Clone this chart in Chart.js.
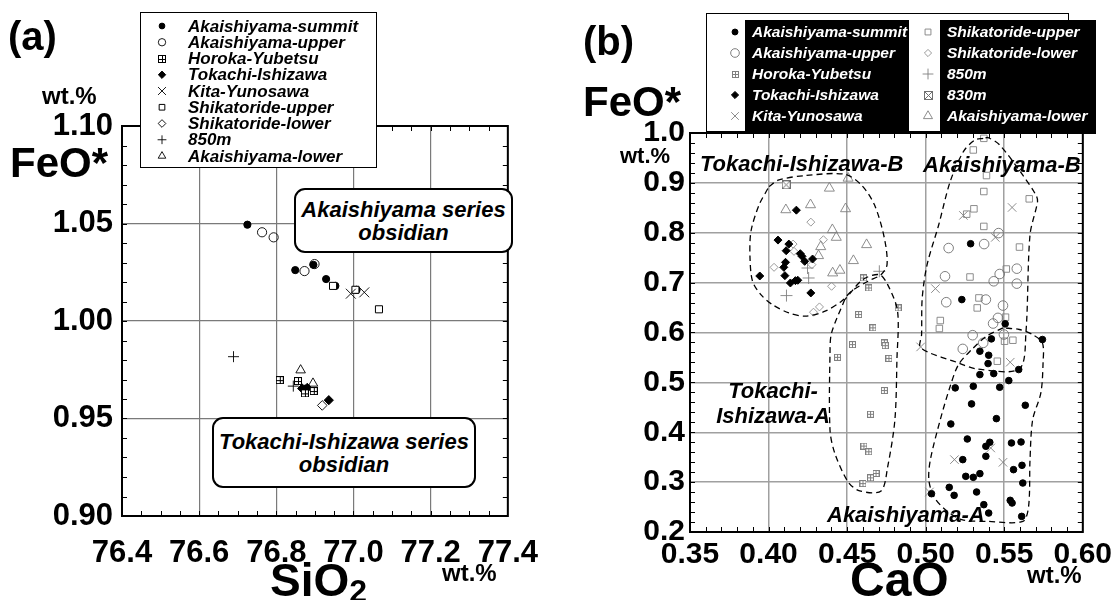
<!DOCTYPE html>
<html>
<head>
<meta charset="utf-8">
<script src="https://cdn.jsdelivr.net/npm/chart.js@4.4.1/dist/chart.umd.min.js"></script>
<style>
html, body { margin: 0; padding: 0; background: #fff; }
#page { position: relative; width: 1114px; height: 600px; overflow: hidden;
        font-family: "Liberation Sans", Arial, Helvetica, sans-serif; font-weight: bold; color: #000; }
canvas.chart { position: absolute; top: 0; }
.t { position: absolute; white-space: nowrap; line-height: 1; }
.it { font-style: italic; }
.box { position: absolute; box-sizing: border-box; background: #fff; }
.note { position: absolute; box-sizing: border-box; background: #fff; border: 2.5px solid #000; border-radius: 11px;
        display: flex; align-items: center; justify-content: center; text-align: center;
        font-style: italic; font-size: 22px; line-height: 23px; }
.blk { position: absolute; background: #000; }
</style>
</head>
<body>
<div id="page">
  <canvas id="chartA" class="chart" width="557" height="600" style="left:0"></canvas>
  <canvas id="chartB" class="chart" width="560" height="600" style="left:557px"></canvas>

  <!-- panel (a) texts -->
  <div class="t" style="left:8px; top:16px; font-size:40px">(a)</div>
  <div class="t" style="left:42px; top:84px; font-size:24px">wt.%</div>
  <div class="t" style="left:10px; top:142px; font-size:42px">FeO*</div>
  <div class="t" style="left:270px; top:557px; font-size:46px">SiO<span style="font-size:32px; position:relative; top:6px">2</span></div>
  <div class="t" style="left:442px; top:561px; font-size:24px">wt.%</div>
  <div class="note" style="left:294px; top:188px; width:219px; height:65px">Akaishiyama series<br>obsidian</div>
  <div class="note" style="left:212px; top:417px; width:264px; height:71px">Tokachi-Ishizawa series<br>obsidian</div>
  <div class="box" style="left:140px; top:12px; width:237px; height:156px; border:1.5px solid #000"></div>

  <!-- panel (b) texts -->
  <div class="t" style="left:583px; top:21px; font-size:40px">(b)</div>
  <div class="t" style="left:583px; top:81px; font-size:42px">FeO*</div>
  <div class="t" style="left:620px; top:145px; font-size:22px">wt.%</div>
  <div class="t" style="left:850px; top:556px; font-size:48px">CaO</div>
  <div class="t" style="left:1027px; top:563px; font-size:24px">wt.%</div>
  <div class="t it" style="left:700px; top:153px; font-size:22px">Tokachi-Ishizawa-B</div>
  <div class="t it" style="left:923px; top:154px; font-size:22px">Akaishiyama-B</div>
  <div class="t it" style="left:700px; top:378px; width:146px; font-size:22px; line-height:25px; text-align:center">Tokachi-<br>Ishizawa-A</div>
  <div class="t it" style="left:827px; top:504px; font-size:22px">Akaishiyama-A</div>
  <div class="box" style="left:706px; top:13px; width:363px; height:119px; border:1.3px solid #000"></div>
  <div class="blk" style="left:745px; top:20px; width:164px; height:114px"></div>
  <div class="blk" style="left:940px; top:20px; width:156px; height:114px"></div>

  <canvas id="symLayer" width="1114" height="600" style="position:absolute; left:0; top:0"></canvas>
</div>

<script>
// series names (legend order)
const namesA = ['Akaishiyama-summit', 'Akaishiyama-upper', 'Horoka-Yubetsu', 'Tokachi-Ishizawa', 'Kita-Yunosawa',
                'Shikatoride-upper', 'Shikatoride-lower', '850m', 'Akaishiyama-lower'];
const namesB = ['Akaishiyama-summit', 'Akaishiyama-upper', 'Horoka-Yubetsu', 'Tokachi-Ishizawa', 'Kita-Yunosawa',
                'Shikatoride-upper', 'Shikatoride-lower', '850m', '830m', 'Akaishiyama-lower'];

// ---- (a) SiO2 (wt.%) vs FeO* (wt.%)
const aSummit   = [[76.725, 1.0494], [76.849, 1.0261], [76.896, 1.0288], [76.929, 1.0215], [76.953, 1.018], [77.008, 1.016]];
const aUpper    = [[76.763, 1.0455], [76.793, 1.0429], [76.873, 1.0256], [76.899, 1.0292]];
const aHoroka   = [[76.809, 0.9697], [76.856, 0.9692], [76.874, 0.9629], [76.897, 0.9641]];
const aTokachi  = [[76.867, 0.9654], [76.874, 0.9649], [76.880, 0.9657], [76.936, 0.9594]];
const aKita     = [[76.993, 1.014], [77.028, 1.0147]];
const aShikUp   = [[76.947, 1.018], [77.005, 1.016], [77.066, 1.006]];
const aShikLow  = [[76.919, 0.9567]];
const a850      = [[76.689, 0.9817], [76.844, 0.9666]];
const aAkaLow   = [[76.863, 0.9748], [76.895, 0.968]];

// ---- (b) CaO (wt.%) vs FeO* (wt.%)
const bSummit = [[0.5286, 0.778], [0.5230, 0.666], [0.5506, 0.6173], [0.5418, 0.5872], [0.5743, 0.5859], [0.5345, 0.5625],
  [0.5401, 0.5544], [0.5397, 0.5377], [0.5592, 0.5257], [0.5345, 0.5156], [0.5433, 0.5176], [0.5529, 0.5036],
  [0.5188, 0.4889], [0.5303, 0.4922], [0.5471, 0.4902], [0.5292, 0.4568], [0.5634, 0.4541], [0.5450, 0.4273],
  [0.5160, 0.4166], [0.5265, 0.3865], [0.5408, 0.3799], [0.5383, 0.3718], [0.5546, 0.3785], [0.5607, 0.3805],
  [0.5236, 0.3451], [0.5383, 0.3518], [0.5559, 0.325], [0.5613, 0.3337], [0.5255, 0.3116], [0.5303, 0.3096],
  [0.5345, 0.317], [0.5618, 0.2982], [0.5037, 0.2768], [0.5150, 0.2895], [0.5181, 0.2735], [0.5324, 0.2802],
  [0.5538, 0.2635], [0.5550, 0.2581], [0.5370, 0.2548], [0.5401, 0.238], [0.5611, 0.2313]];
const bUpper = [[0.5464, 0.7993], [0.5372, 0.7773], [0.5146, 0.7693], [0.5123, 0.7127], [0.5580, 0.728], [0.5471, 0.7173],
  [0.5433, 0.7027], [0.5580, 0.698], [0.5383, 0.666], [0.5131, 0.6607], [0.5492, 0.654], [0.5460, 0.6293],
  [0.5429, 0.618], [0.5299, 0.5946], [0.5236, 0.5671], [0.5366, 0.5792], [0.5498, 0.5959]];
const bHoroka = [[0.4605, 0.7093], [0.4638, 0.6893], [0.4573, 0.636], [0.4664, 0.6093], [0.4825, 0.6493], [0.4534, 0.5757],
  [0.4737, 0.579], [0.4743, 0.5736], [0.4439, 0.5502], [0.4766, 0.5481], [0.4737, 0.4837], [0.4649, 0.436],
  [0.4607, 0.3723], [0.4638, 0.3609], [0.4684, 0.3173], [0.4649, 0.3086], [0.4601, 0.2971]];
const bTokachi = [[0.4177, 0.8453], [0.4060, 0.7853], [0.4129, 0.7773], [0.4112, 0.764], [0.4202, 0.758], [0.4213, 0.7527],
  [0.4108, 0.7407], [0.4097, 0.7307], [0.4230, 0.7427], [0.4280, 0.7473], [0.3944, 0.7133], [0.4104, 0.714],
  [0.4139, 0.6993], [0.4171, 0.704], [0.4186, 0.7047], [0.4269, 0.6793]];
const bKita = [[0.5240, 0.8347], [0.5550, 0.8507], [0.5443, 0.7907], [0.5062, 0.688], [0.4968, 0.5711], [0.5538, 0.5404],
  [0.5183, 0.3451], [0.5492, 0.3397], [0.5024, 0.2802], [0.5414, 0.3685]];
const bShikUp = [[0.5370, 0.9893], [0.5303, 0.966], [0.5387, 0.9147], [0.5370, 0.8827], [0.5659, 0.868], [0.5307, 0.848],
  [0.5261, 0.8373], [0.5370, 0.8127], [0.5597, 0.7713], [0.5282, 0.7113], [0.5513, 0.7273], [0.5339, 0.6693],
  [0.5328, 0.6493], [0.5093, 0.624], [0.5087, 0.608], [0.5508, 0.6307], [0.5502, 0.5825], [0.5555, 0.5845], [0.5456, 0.5424]];
const bShikLow = [[0.4269, 0.8213], [0.4156, 0.7773], [0.4162, 0.7627], [0.4349, 0.786], [0.4276, 0.736], [0.4035, 0.7307],
  [0.4401, 0.6927], [0.4324, 0.6513], [0.4286, 0.6407]];
const b850 = [[0.4248, 0.7293], [0.4255, 0.7093], [0.4114, 0.674], [0.4705, 0.7227]];
const b830 = [[0.4112, 0.896]];
const bAkaLow = [[0.4506, 0.9093], [0.4387, 0.8893], [0.4267, 0.856], [0.4110, 0.846], [0.4490, 0.848], [0.4406, 0.806],
  [0.4431, 0.7907], [0.4332, 0.772], [0.4318, 0.754], [0.4624, 0.776], [0.4540, 0.744], [0.4408, 0.7193], [0.4454, 0.7247]];

// group outlines (dashed) in (b)
const tiB = [[0.4003, 0.8927], [0.4066, 0.906], [0.4234, 0.9147], [0.4485, 0.9173], [0.4590, 0.896], [0.4674, 0.856],
  [0.4737, 0.7893], [0.4754, 0.736], [0.4716, 0.716], [0.4632, 0.7027], [0.4527, 0.6827], [0.4464, 0.6627],
  [0.4360, 0.6427], [0.4234, 0.6327], [0.4129, 0.6393], [0.4024, 0.656], [0.3951, 0.676], [0.3898, 0.7027],
  [0.3882, 0.7493], [0.3888, 0.8027], [0.3940, 0.856], [0.4003, 0.8927]];
const tiA = [[0.4485, 0.666], [0.4401, 0.5993], [0.4391, 0.559], [0.4391, 0.4045], [0.4422, 0.3575], [0.4506, 0.3005],
  [0.4580, 0.2824], [0.4716, 0.2824], [0.4758, 0.3307], [0.4804, 0.4247], [0.4817, 0.5455], [0.4821, 0.6427],
  [0.4758, 0.696], [0.4705, 0.716], [0.4600, 0.706], [0.4485, 0.666]];
const akB = [[0.5366, 0.9893], [0.5313, 0.986], [0.5240, 0.9627], [0.5156, 0.9027], [0.5083, 0.816], [0.5009, 0.736],
  [0.4978, 0.6693], [0.4974, 0.596], [0.4968, 0.5691], [0.5209, 0.539], [0.5324, 0.527], [0.5596, 0.527],
  [0.5638, 0.60], [0.5664, 0.796], [0.5712, 0.8627], [0.5701, 0.876], [0.5617, 0.916], [0.5471, 0.976],
  [0.5397, 0.9907], [0.5366, 0.9893]];
const akA = [[0.5492, 0.6093], [0.5387, 0.5926], [0.5293, 0.5658], [0.5209, 0.5357], [0.5156, 0.4922], [0.5093, 0.4253],
  [0.5030, 0.3451], [0.5020, 0.3049], [0.5051, 0.2715], [0.5125, 0.2447], [0.5230, 0.2247], [0.5397, 0.2213],
  [0.5618, 0.2213], [0.5655, 0.2514], [0.5664, 0.3451], [0.5681, 0.4253], [0.5733, 0.4788], [0.5747, 0.539],
  [0.5743, 0.5792], [0.5680, 0.5959], [0.5596, 0.606], [0.5492, 0.6093]];

// axis ticks
const ticksA = { xMin: 76.4, xMax: 77.4, xStep: 0.2, xMinor: 0.05, yMin: 0.90, yMax: 1.10, yStep: 0.05, yMinor: 0.01 };
const ticksB = { xMin: 0.35, xMax: 0.60, xStep: 0.05, xMinor: 0.01, yMin: 0.2, yMax: 1.0, yStep: 0.1, yMinor: 0.02 };

// box symbols (⊞ / ⊠) as small canvases
function boxImg(diag, n, color) {
  const c = document.createElement('canvas');
  c.width = c.height = n;
  const g = c.getContext('2d');
  g.fillStyle = '#fff';
  g.fillRect(0, 0, n, n);
  g.strokeStyle = color;
  g.lineWidth = 1;
  g.strokeRect(0.5, 0.5, n - 1, n - 1);
  g.beginPath();
  if (diag) {
    g.moveTo(0.5, 0.5); g.lineTo(n - 0.5, n - 0.5);
    g.moveTo(n - 0.5, 0.5); g.lineTo(0.5, n - 0.5);
  } else {
    const m = Math.floor(n / 2) + 0.5;
    g.moveTo(m, 0.5); g.lineTo(m, n - 0.5);
    g.moveTo(0.5, m); g.lineTo(n - 0.5, m);
  }
  g.stroke();
  return c;
}

const none = 'rgba(0,0,0,0)';
const grey = '#808080';

// point styles, panel (a)
const stylesA = [
  { pointStyle: 'circle', pointRadius: 3.6, pointBackgroundColor: '#000', pointBorderColor: '#000', pointBorderWidth: 1, order: 10 },
  { pointStyle: 'circle', pointRadius: 4.6, pointBackgroundColor: none, pointBorderColor: '#000', pointBorderWidth: 0.9 },
  { pointStyle: boxImg(false, 8, '#000'), pointRadius: 4 },
  { pointStyle: 'rectRot', pointRadius: 4.6, pointBackgroundColor: '#000', pointBorderColor: '#000', pointBorderWidth: 1 },
  { pointStyle: 'crossRot', pointRadius: 7, pointBorderColor: '#000', pointBorderWidth: 0.9 },
  { pointStyle: 'rect', pointRadius: 5, pointBackgroundColor: '#fff', pointBorderColor: '#000', pointBorderWidth: 1 },
  { pointStyle: 'rectRot', pointRadius: 4.8, pointBackgroundColor: '#fff', pointBorderColor: '#000', pointBorderWidth: 0.9 },
  { pointStyle: 'cross', pointRadius: 5.5, pointBorderColor: '#000', pointBorderWidth: 0.9 },
  { pointStyle: 'triangle', pointRadius: 5.5, pointBackgroundColor: '#fff', pointBorderColor: '#000', pointBorderWidth: 0.9 }
];
// point styles, panel (b)
const stylesB = [
  { pointStyle: 'circle', pointRadius: 3.3, pointBackgroundColor: '#000', pointBorderColor: '#000', pointBorderWidth: 1 },
  { pointStyle: 'circle', pointRadius: 4.8, pointBackgroundColor: none, pointBorderColor: '#707070', pointBorderWidth: 0.9 },
  { pointStyle: boxImg(false, 7, grey), pointRadius: 4 },
  { pointStyle: 'rectRot', pointRadius: 4, pointBackgroundColor: '#000', pointBorderColor: '#000', pointBorderWidth: 1 },
  { pointStyle: 'crossRot', pointRadius: 6, pointBorderColor: grey, pointBorderWidth: 0.9 },
  { pointStyle: 'rect', pointRadius: 4.6, pointBackgroundColor: none, pointBorderColor: grey, pointBorderWidth: 0.9 },
  { pointStyle: 'rectRot', pointRadius: 4, pointBackgroundColor: none, pointBorderColor: '#909090', pointBorderWidth: 0.9 },
  { pointStyle: 'cross', pointRadius: 6, pointBorderColor: grey, pointBorderWidth: 0.9 },
  { pointStyle: boxImg(true, 9, '#707070'), pointRadius: 4.5 },
  { pointStyle: 'triangle', pointRadius: 5.8, pointBackgroundColor: none, pointBorderColor: grey, pointBorderWidth: 0.9 }
];

const toXY = arr => arr.map(p => ({ x: p[0], y: p[1] }));

function pointSet(label, arr, st) {
  return Object.assign({ label: label, data: toXY(arr), showLine: false }, st);
}
function outline(label, arr) {
  return {
    label: label, data: toXY(arr), showLine: true, tension: 0.3,
    borderColor: '#000', borderWidth: 1.3, borderDash: [6, 4], pointRadius: 0, order: -1
  };
}

// frame and inner minor ticks on all four sides
const frameTicks = {
  id: 'frameTicks',
  afterDraw(chart, args, o) {
    const { ctx, chartArea: a, scales: { x, y } } = chart;
    ctx.save();
    ctx.strokeStyle = '#000';
    ctx.lineWidth = 1;
    ctx.beginPath();
    const nx = Math.round((x.max - x.min) / o.xMinor);
    for (let i = 1; i < nx; i++) {
      const px = Math.round(x.getPixelForValue(x.min + i * o.xMinor)) + 0.5;
      ctx.moveTo(px, a.bottom); ctx.lineTo(px, a.bottom - o.len);
      ctx.moveTo(px, a.top); ctx.lineTo(px, a.top + o.len);
    }
    const ny = Math.round((y.max - y.min) / o.yMinor);
    for (let i = 1; i < ny; i++) {
      const py = Math.round(y.getPixelForValue(y.min + i * o.yMinor)) + 0.5;
      ctx.moveTo(a.left, py); ctx.lineTo(a.left + o.len, py);
      ctx.moveTo(a.right, py); ctx.lineTo(a.right - o.len, py);
    }
    ctx.stroke();
    ctx.lineWidth = o.frame;
    ctx.strokeRect(a.left, a.top, a.right - a.left, a.bottom - a.top);
    ctx.restore();
  }
};

function makeOptions(t, lay, fmtX, fmtY, gridColor, gridWidth) {
  const font = { family: 'Liberation Sans', weight: 'bold', size: lay.fs };
  return {
    responsive: false,
    animation: false,
    events: [],
    layout: { padding: { left: 0, top: lay.top, right: lay.right, bottom: 0 } },
    plugins: {
      legend: { display: false },
      tooltip: { enabled: false },
      frameTicks: { xMinor: t.xMinor, yMinor: t.yMinor, len: 5, frame: 2 }
    },
    scales: {
      x: {
        type: 'linear', min: t.xMin, max: t.xMax,
        afterFit: s => { s.height = lay.xh; },
        border: { display: false },
        grid: { color: gridColor, lineWidth: gridWidth, drawTicks: false },
        ticks: { stepSize: t.xStep, autoSkip: false, maxRotation: 0, padding: lay.xpad, color: '#000', font: font,
                 callback: v => v.toFixed(fmtX) }
      },
      y: {
        type: 'linear', min: t.yMin, max: t.yMax,
        afterFit: s => { s.width = lay.yw; },
        border: { display: false },
        grid: { color: gridColor, lineWidth: gridWidth, drawTicks: false },
        ticks: { stepSize: t.yStep, autoSkip: false, padding: lay.ypad, color: '#000', font: font,
                 callback: v => v.toFixed(fmtY) }
      }
    }
  };
}

const seriesA = [aSummit, aUpper, aHoroka, aTokachi, aKita, aShikUp, aShikLow, a850, aAkaLow];
const seriesB = [bSummit, bUpper, bHoroka, bTokachi, bKita, bShikUp, bShikLow, b850, b830, bAkaLow];

new Chart(document.getElementById('chartA'), {
  type: 'scatter',
  data: { datasets: seriesA.map((s, i) => pointSet(namesA[i], s, stylesA[i])) },
  options: makeOptions(ticksA, { top: 126, right: 44, xh: 84, yw: 122, xpad: 19, ypad: 9, fs: 31 }, 1, 2, '#7a7a7a', 1.2),
  plugins: [frameTicks]
});

new Chart(document.getElementById('chartB'), {
  type: 'scatter',
  data: {
    datasets: seriesB.map((s, i) => pointSet(namesB[i], s, stylesB[i])).concat([
      outline('Tokachi-Ishizawa-B', tiB), outline('Tokachi-Ishizawa-A', tiA),
      outline('Akaishiyama-B', akB), outline('Akaishiyama-A', akA)
    ])
  },
  options: makeOptions(ticksB, { top: 133, right: 30, xh: 68, yw: 133, xpad: 5, ypad: 5, fs: 30 }, 2, 1, '#a0a0a0', 1.5),
  plugins: [frameTicks]
});

// legend symbols, drawn with the same styles
function drawSym(g, s, x, y, k) {
  const st = s.pointStyle;
  g.save();
  if (typeof st !== 'string') {
    g.drawImage(st, Math.round(x - st.width / 2), Math.round(y - st.height / 2));
    g.restore();
    return;
  }
  const r = s.pointRadius * k;
  g.strokeStyle = s.pointBorderColor;
  g.fillStyle = s.pointBackgroundColor || none;
  g.lineWidth = s.pointBorderWidth || 1;
  g.beginPath();
  if (st === 'circle') {
    g.arc(x, y, r, 0, Math.PI * 2); g.fill(); g.stroke();
  } else if (st === 'rect') {
    const h = r * Math.SQRT1_2; g.rect(x - h, y - h, 2 * h, 2 * h); g.fill(); g.stroke();
  } else if (st === 'rectRot') {
    g.moveTo(x, y - r); g.lineTo(x + r, y); g.lineTo(x, y + r); g.lineTo(x - r, y); g.closePath(); g.fill(); g.stroke();
  } else if (st === 'triangle') {
    for (let j = 0; j < 3; j++) {
      const an = j * 2 * Math.PI / 3;
      if (j) g.lineTo(x + Math.sin(an) * r, y - Math.cos(an) * r); else g.moveTo(x + Math.sin(an) * r, y - Math.cos(an) * r);
    }
    g.closePath(); g.fill(); g.stroke();
  } else if (st === 'cross') {
    g.moveTo(x - r, y); g.lineTo(x + r, y); g.moveTo(x, y - r); g.lineTo(x, y + r); g.stroke();
  } else if (st === 'crossRot') {
    const h = r * Math.SQRT1_2;
    g.moveTo(x - h, y - h); g.lineTo(x + h, y + h); g.moveTo(x + h, y - h); g.lineTo(x - h, y + h); g.stroke();
  }
  g.restore();
}

const page = document.getElementById('page');
const sg = document.getElementById('symLayer').getContext('2d');

function addText(txt, left, top, size, color) {
  const d = document.createElement('div');
  d.className = 't it';
  d.textContent = txt;
  d.style.left = left + 'px';
  d.style.top = top + 'px';
  d.style.fontSize = size + 'px';
  d.style.color = color;
  page.appendChild(d);
}

// legend (a)
namesA.forEach((n, i) => {
  const cy = 26 + i * 16.25;
  drawSym(sg, stylesA[i], 162, cy, 0.8);
  addText(n, 188, cy - 8.4, 17, '#000');
});
// legend (b), two columns
namesB.forEach((n, i) => {
  const col = i < 5 ? 0 : 1;
  const cy = 32 + (i % 5) * 21;
  drawSym(sg, stylesB[i], col ? 928 : 735, cy, 0.9);
  addText(n, col ? 947 : 752, cy - 7.6, 15.5, '#fff');
});
</script>
</body>
</html>
